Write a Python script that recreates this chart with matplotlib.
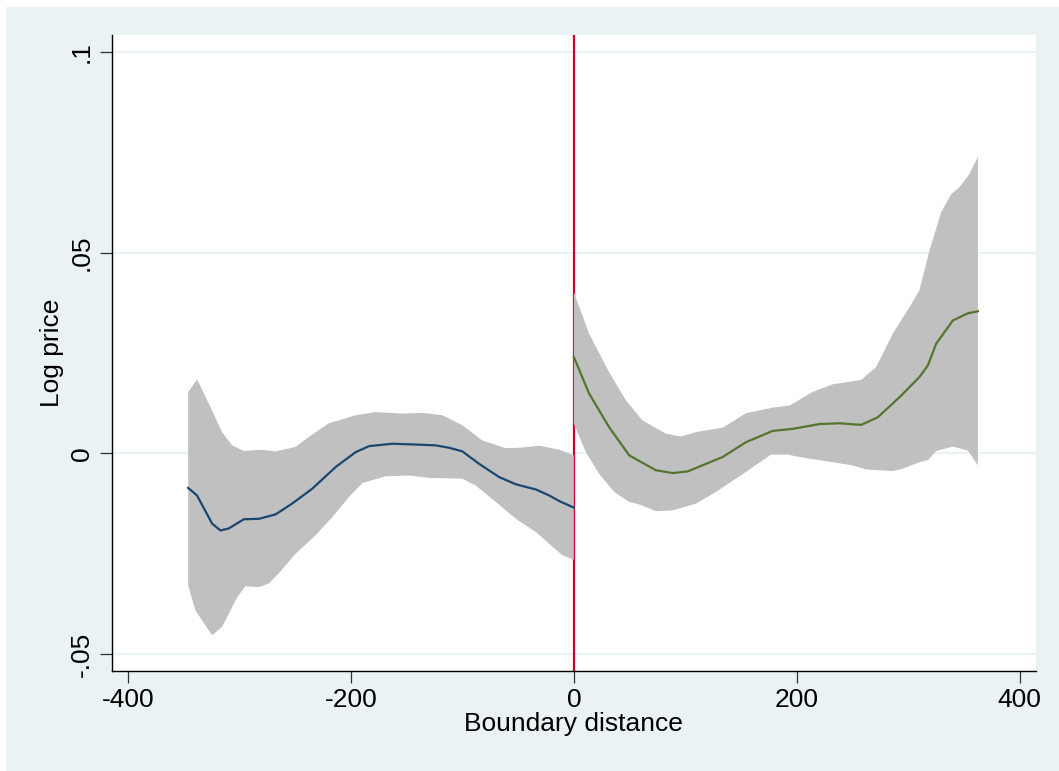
import matplotlib
matplotlib.use("Agg")
import matplotlib.pyplot as plt
from matplotlib.patches import Rectangle

# ---- data ----
left_mean_x = [-346, -338, -324.5, -317, -309.6, -296, -282.6, -267.6, -252.7, -234.7, -213.7,
               -195.8, -183.8, -162.9, -141.9, -123.9, -112, -100, -85, -67, -52, -34, -22, -13, 0]
left_mean_y = [-0.0086, -0.0105, -0.0175, -0.0192, -0.0187, -0.0164, -0.0163, -0.0152, -0.0125,
               -0.0088, -0.0034, 0.0003, 0.0018, 0.0024, 0.0022, 0.0020, 0.0014, 0.0005, -0.0026,
               -0.0059, -0.0077, -0.0090, -0.0105, -0.0119, -0.0135]

left_hi_x = [-346, -338, -327.5, -315.6, -306.6, -296, -281, -267.6, -249.7, -237.7, -219.8,
             -195.8, -177.8, -153.9, -136, -118, -100, -82, -61, -49, -31, -13, 0]
left_hi_y = [0.0153, 0.0184, 0.0124, 0.0053, 0.0020, 0.0006, 0.0009, 0.0005, 0.0016, 0.0041,
             0.0075, 0.0095, 0.0103, 0.0099, 0.0101, 0.0095, 0.0070, 0.0032, 0.0013, 0.0014,
             0.0019, 0.0009, -0.0005]

left_lo_x = [-346, -339.5, -324.5, -315.6, -302, -294.6, -282.6, -273.6, -264.7, -249.7, -231.7,
             -216.8, -201.8, -189.8, -168.8, -148, -130, -100, -88, -70, -52, -34, -19, -10, 0]
left_lo_y = [-0.0329, -0.0391, -0.0453, -0.0432, -0.0358, -0.0331, -0.0333, -0.0324, -0.0299,
             -0.0250, -0.0204, -0.0159, -0.0109, -0.0074, -0.0057, -0.0055, -0.0061, -0.0063,
             -0.0080, -0.0121, -0.0163, -0.0196, -0.0233, -0.0254, -0.0265]

right_mean_x = [0, 13.7, 31.7, 49.7, 73.6, 88.6, 102, 133.5, 154.5, 178.4, 196.3, 220.3, 238.3,
                257.7, 272.7, 292.2, 310, 317.6, 325, 340, 353.5, 362.5]
right_mean_y = [0.0240, 0.0149, 0.0065, -0.0005, -0.0042, -0.0049, -0.0045, -0.0009, 0.0028,
                0.0056, 0.0061, 0.0073, 0.0075, 0.0071, 0.0090, 0.0140, 0.0190, 0.0219, 0.0273,
                0.0331, 0.0349, 0.0354]

right_hi_x = [0, 13.7, 31.7, 46.7, 61.6, 82.6, 96, 109.6, 133.5, 154.5, 178.4, 193.4, 214.3,
              232.3, 244.3, 257.7, 271.2, 286.1, 301.1, 310, 319, 329.6, 338.6, 346, 355, 362.5]
right_hi_y = [0.0401, 0.0298, 0.0202, 0.0132, 0.0082, 0.0049, 0.0042, 0.0053, 0.0064, 0.0100,
              0.0114, 0.0119, 0.0153, 0.0172, 0.0177, 0.0183, 0.0215, 0.0298, 0.0364, 0.0406,
              0.0505, 0.0601, 0.0646, 0.0663, 0.0696, 0.0739]

right_lo_x = [0, 10.8, 22.7, 36.2, 49.7, 58.6, 73.6, 88.6, 109.6, 127.5, 154.5, 177, 191.8,
              202.3, 250.2, 262.2, 286.1, 295.1, 310, 317.6, 325, 340, 353.5, 362.5]
right_lo_y = [0.0074, 0.0003, -0.0051, -0.0096, -0.0121, -0.0127, -0.0144, -0.0142, -0.0125,
              -0.0096, -0.0046, -0.0003, -0.0003, -0.0009, -0.0030, -0.0040, -0.0044, -0.0038,
              -0.0022, -0.0017, 0.0006, 0.0017, 0.0007, -0.0030]

x_ticks = [-400, -200, 0, 200, 400]
x_tick_labels = ["-400", "-200", "0", "200", "400"]
y_ticks = [-0.05, 0, 0.05, 0.1]
y_tick_labels = ["-.05", "0", ".05", ".1"]
cutoff = 0

# ---- style ----
BG = "#EAF2F3"
BAND = "#C0C0C0"
NAVY = "#1A476F"
GREEN = "#55752F"
RED = "#CC0033"

plt.rcParams["font.family"] = ["Liberation Sans", "DejaVu Sans"]

W, H = 1059, 771
fig = plt.figure(figsize=(W / 100, H / 100), dpi=100, facecolor="white")
fig.patches.append(Rectangle((6 / W, 0), 1, 1 - 7 / H, transform=fig.transFigure,
                             facecolor=BG, edgecolor="none", zorder=-10))

left, right, top, bottom = 111.7, 1036, 35, 671
ax = fig.add_axes([left / W, 1 - bottom / H, (right - left) / W, (bottom - top) / H])
ax.set_facecolor("white")

ax.set_xlim(-414.6, 414.6)
ax.set_ylim(-0.0542, 0.1042)

# gridlines
for yt in y_ticks:
    ax.axhline(yt, color=BG, lw=1.6, zorder=0.5)

# vertical cutoff line
ax.axvline(cutoff, color=RED, lw=1.6, zorder=1)

# confidence bands
ax.fill(list(left_hi_x) + list(left_lo_x[::-1]), list(left_hi_y) + list(left_lo_y[::-1]),
        color=BAND, lw=0, zorder=2)
ax.fill(list(right_hi_x) + list(right_lo_x[::-1]), list(right_hi_y) + list(right_lo_y[::-1]),
        color=BAND, lw=0, zorder=2)

# fitted lines
ax.plot(left_mean_x, left_mean_y, color=NAVY, lw=1.6, zorder=3)
ax.plot(right_mean_x, right_mean_y, color=GREEN, lw=1.6, zorder=3)

# axes styling
for s in ["top", "right"]:
    ax.spines[s].set_visible(False)
for s in ["left", "bottom"]:
    ax.spines[s].set_color("black")
    ax.spines[s].set_linewidth(1.0)

ax.set_xticks(x_ticks)
ax.set_xticklabels(x_tick_labels)
ax.set_yticks(y_ticks)
ax.set_yticklabels(y_tick_labels, rotation=90, va="center")
ax.tick_params(axis="both", direction="out", length=8.5, width=0.9, color="#333333",
               labelsize=19, labelcolor="black")
ax.tick_params(axis="x", pad=3.5)
ax.tick_params(axis="y", pad=4.5)

ax.set_xlabel("Boundary distance", fontsize=19, labelpad=0)
ax.set_ylabel("Log price", fontsize=19, labelpad=4)

fig.savefig("out.png", dpi=100, facecolor=fig.get_facecolor())
